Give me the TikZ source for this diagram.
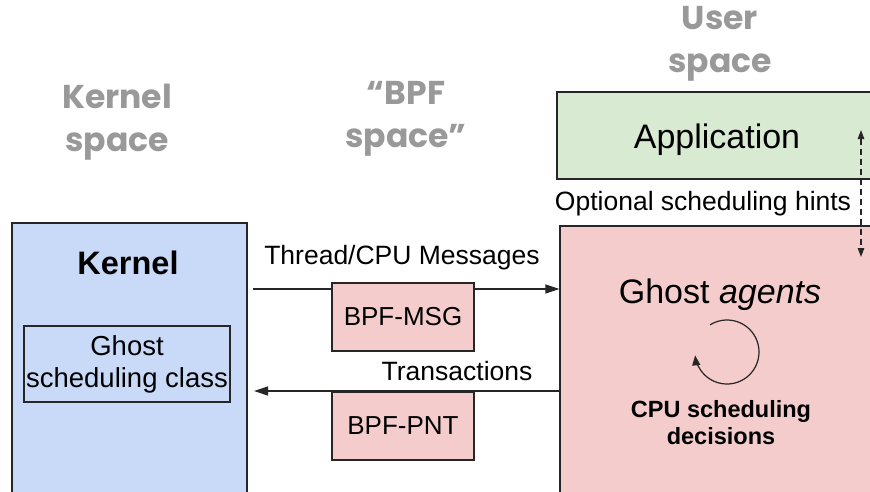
\documentclass[tikz,border=0pt]{standalone}
\usepackage{fontspec}
\setmainfont{Liberation Sans}
\newfontfamily\headfont{Poppins}
\usetikzlibrary{arrows.meta, positioning}
\definecolor{kernelblue}{HTML}{C9DAF8}
\definecolor{usergreen}{HTML}{D9EAD3}
\definecolor{agentred}{HTML}{F4CCCC}
\definecolor{spacegray}{HTML}{999999}
\definecolor{edgegray}{HTML}{262626}
\tikzset{
  region/.style={draw=edgegray, line width=1.2pt, inner sep=0pt, fill=#1},
  bpfmap/.style={draw=edgegray, line width=1.2pt, fill=agentred, minimum width=142pt,
    minimum height=68pt, inner sep=0pt, font=\fontsize{26}{30}\selectfont},
  spacehead/.style={font=\headfont\bfseries\fontsize{33}{43}\selectfont, text=spacegray, align=center},
  lbl/.style={font=\fontsize{26.5}{30}\selectfont, inner sep=0pt, anchor=base},
  msg/.style={-{Triangle[length=14pt, width=9pt]}, line width=1.2pt, draw=edgegray},
  hint/.style={{Triangle[length=9pt, width=6.5pt]}-{Triangle[length=9pt, width=6.5pt]}, line width=1.2pt,
    draw=edgegray, dash pattern=on 6pt off 4pt},
}

\begin{document}
\begin{tikzpicture}[x=1pt, y=-1pt]
  \useasboundingbox (0,0) rectangle (870,491);
  \clip (0,0) rectangle (870,491);

  % column headings
  \node[spacehead] (kspace) at (117,122) {Kernel\\space};
  \node[spacehead] (bspace) at (406,119) {“BPF\\space”};
  \node[spacehead] (uspace) at (720,44) {User\\space};

  % the three regions
  \node[region=kernelblue, minimum width=235pt, minimum height=297pt] (kernel) at (129.5,371.5) {};
  \node[region=usergreen, minimum width=323pt, minimum height=87pt] (app) at (718.5,135.5) {};
  \node[region=agentred, minimum width=320pt, minimum height=294pt] (ghost) at (720,373) {};

  \node[lbl, font=\bfseries\fontsize{32.5}{36}\selectfont] (klabel) at (128,274) {Kernel};
  \node[draw=edgegray, line width=1.2pt, inner sep=0pt, minimum width=206pt, minimum height=76pt,
    align=center, font=\fontsize{27.5}{32}\selectfont] (gclass) at (127,364) {Ghost\\scheduling class};
  \node[lbl, font=\fontsize{34}{38}\selectfont] (applabel) at (717,148) {Application};
  \node[lbl, font=\fontsize{34}{38}\selectfont] (glabel) at (720,303) {Ghost \textit{agents}};
  \node[align=center, inner sep=0pt, font=\bfseries\fontsize{23.5}{27}\selectfont] (decide) at (721,423)
    {CPU scheduling\\decisions};

  % message and transaction paths
  \coordinate (msgin) at (253,289);
  \coordinate (pntout) at (254,391);
  \draw[msg] (msgin) -- (msgin -| ghost.west);
  \draw[msg] (pntout -| ghost.west) -- (pntout);
  \node[lbl] (msgtext) at (402,264) {Thread/CPU Messages};
  \node[lbl] (pnttext) at (457,380) {Transactions};
  \node[bpfmap] (bpfmsg) at (403,317) {BPF-MSG};
  \node[bpfmap] (bpfpnt) at (403,426) {BPF-PNT};

  % hints between application and agents
  \coordinate (hinttop) at (861,130);
  \coordinate (hintbot) at (861,257);
  \draw[hint] (hinttop) -- (hintbot);
  \node[lbl] (hinttext) at (703,210) {Optional scheduling hints};

  % scheduling loop
  \coordinate (loop) at (727,352);
  \draw[line width=1.2pt, draw=edgegray, -{Triangle[length=10pt, width=8pt]}]
    ([shift={(238:32)}]loop) arc[start angle=238, end angle=534, radius=32];
\end{tikzpicture}
\end{document}
